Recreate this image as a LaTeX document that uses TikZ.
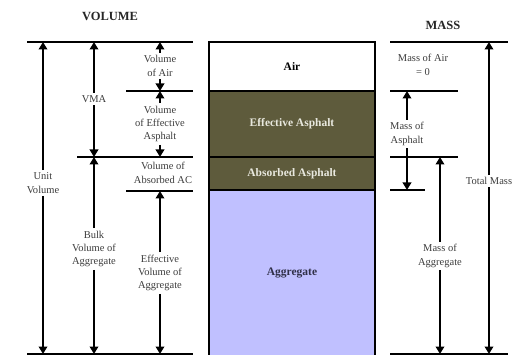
\documentclass[tikz,border=0pt]{standalone}
\usepackage{fontspec}
\setmainfont{Liberation Serif}
\usetikzlibrary{arrows.meta}
\definecolor{asphcol}{RGB}{94,91,60}
\definecolor{aggcol}{RGB}{192,192,255}
\definecolor{lbltext}{RGB}{60,60,60}
\definecolor{lighttext}{RGB}{232,232,222}
\definecolor{aggtext}{RGB}{48,48,72}
\begin{document}
\begin{tikzpicture}[x=1pt,y=-1pt,
  hl/.style={line width=2pt},
  arr/.style={line width=2pt,-{Triangle[width=8.5pt,length=7.5pt]}},
  lbl/.style={font=\fontsize{10.5}{13.3}\selectfont, align=center, text=lbltext, inner sep=2.5pt},
  ttl/.style={font=\fontsize{12.5}{14}\selectfont\bfseries, text=black!85},
  layer/.style={draw=black, line width=1.8pt, minimum width=166pt, inner sep=0pt,
     font=\fontsize{11.5}{13}\selectfont\bfseries}]
\useasboundingbox (0,0) rectangle (522,355);
% titles
\node[ttl] (tvol) at (110,16) {VOLUME};
\node[ttl] (tmass) at (443,25) {MASS};
% central column of layers
\node[layer, fill=white, minimum height=49pt, text=black] (air) at (292,66.5) {Air};
\node[layer, fill=asphcol, minimum height=66pt, text=lighttext] (effasp) at (292,124) {Effective Asphalt};
\node[layer, fill=asphcol, minimum height=33pt, text=lighttext] (absasp) at (292,173.5) {Absorbed Asphalt};
\node[layer, fill=aggcol, minimum height=166pt, text=aggtext] (agg) at (292,273) {Aggregate};
% left horizontal lines
\coordinate (la0) at (27,42);   \coordinate (lb0) at (193,42);
\coordinate (la1) at (126,91);  \coordinate (lb1) at (193,91);
\coordinate (la2) at (77,157);  \coordinate (lb2) at (193,157);
\coordinate (la3) at (126,191); \coordinate (lb3) at (193,191);
\coordinate (la4) at (27,354);  \coordinate (lb4) at (193,354);
\foreach \i in {0,...,4} {\draw[hl] (la\i) -- (lb\i);}
% right horizontal lines
\coordinate (ra0) at (390,42);  \coordinate (rb0) at (508,42);
\coordinate (ra1) at (390,91);  \coordinate (rb1) at (458,91);
\coordinate (ra2) at (390,157); \coordinate (rb2) at (458,157);
\coordinate (ra3) at (390,190); \coordinate (rb3) at (425,190);
\coordinate (ra4) at (390,354); \coordinate (rb4) at (508,354);
\foreach \i in {0,...,4} {\draw[hl] (ra\i) -- (rb\i);}
% left labels
\node[lbl] (uv) at (43,183) {Unit\\Volume};
\node[lbl] (vma) at (94,99) {VMA};
\node[lbl] (bulk) at (94,249) {Bulk\\Volume of\\Aggregate};
\node[lbl] (voa) at (160,66) {Volume\\of Air};
\node[lbl] (voe) at (160,124) {Volume\\of Effective\\Asphalt};
\node[lbl] (vaac) at (163,173) {Volume of\\Absorbed AC};
\node[lbl] (eva) at (160,273) {Effective\\Volume of\\Aggregate};
% left arrows
\draw[arr] (uv.north) -- (uv.north |- la0);
\draw[arr] (uv.south) -- (uv.south |- la4);
\draw[arr] (vma.north) -- (vma.north |- la0);
\draw[arr] (vma.south) -- (vma.south |- la2);
\draw[arr] (bulk.north) -- (bulk.north |- la2);
\draw[arr] (bulk.south) -- (bulk.south |- la4);
\draw[arr] (voa.north) -- (voa.north |- la0);
\draw[arr] (voa.south) -- (voa.south |- la1);
\draw[arr] (voe.north) -- (voe.north |- la1);
\draw[arr] (voe.south) -- (voe.south |- la2);
\draw[arr] (eva.north) -- (eva.north |- la3);
\draw[arr] (eva.south) -- (eva.south |- la4);
% right labels
\node[lbl] (moa) at (423,65) {Mass of Air\\= 0};
\node[lbl] (mas) at (407,134) {Mass of\\Asphalt};
\node[lbl] (mag) at (440,256) {Mass of\\Aggregate};
\node[lbl] (tm) at (489,181) {Total Mass};
% right arrows
\draw[arr] (mas.north) -- (mas.north |- ra1);
\draw[arr] (mas.south) -- (mas.south |- ra3);
\draw[arr] (mag.north) -- (mag.north |- ra2);
\draw[arr] (mag.south) -- (mag.south |- ra4);
\draw[arr] (tm.north) -- (tm.north |- ra0);
\draw[arr] (tm.south) -- (tm.south |- ra4);
\end{tikzpicture}
\end{document}
